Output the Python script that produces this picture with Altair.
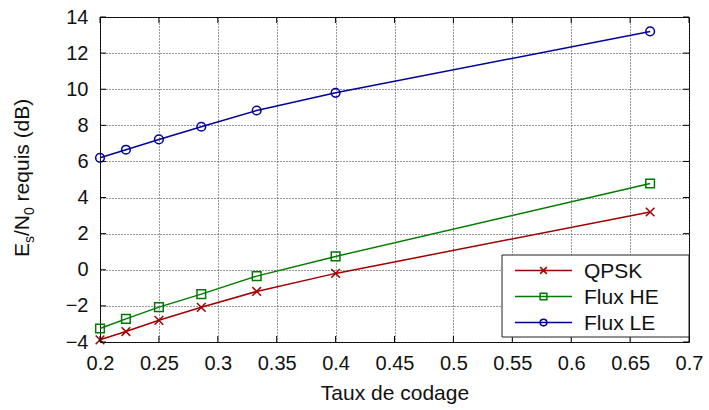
import altair as alt
import pandas as pd

# ---- data ----
rates = [0.2, 0.222, 0.25, 0.286, 0.333, 0.4, 0.667]
qpsk = [-3.88, -3.42, -2.8, -2.08, -1.2, -0.2, 3.2]
flux_he = [-3.25, -2.72, -2.07, -1.35, -0.35, 0.74, 4.78]
flux_le = [6.2, 6.65, 7.22, 7.92, 8.82, 9.8, 13.2]
series = ["QPSK", "Flux HE", "Flux LE"]
colors = ["#a00000", "#007a00", "#00009a"]
shapes = ["M-1,-1L1,1M-1,1L1,-1", "square", "circle"]
x_ticks = [0.2, 0.25, 0.3, 0.35, 0.4, 0.45, 0.5, 0.55, 0.6, 0.65, 0.7]
y_ticks = [-4, -2, 0, 2, 4, 6, 8, 10, 12, 14]
x_title = "Taux de codage"

rows = []
for name, vals in zip(series, [qpsk, flux_he, flux_le]):
    for r, v in zip(rates, vals):
        rows.append({"rate": r, "val": v, "serie": name})
df = pd.DataFrame(rows)

W, H = 589, 325
FONT = "Liberation Sans"

xs = alt.Scale(domain=[0.2, 0.7], nice=False, zero=False)
ys = alt.Scale(domain=[-4, 14], nice=False, zero=False)
cs = alt.Scale(domain=series, range=colors)
ss = alt.Scale(domain=series, range=shapes)

xaxis = alt.Axis(values=x_ticks, format="~g", grid=True, gridDash=[1, 2],
                 gridColor="#333", gridWidth=1, ticks=False, tickSize=0,
                 domain=False, labelFontSize=20, labelFont=FONT, labelColor="#111",
                 labelPadding=11, labelOverlap=False, title=x_title, titleFont=FONT,
                 titleFontSize=21, titleFontWeight="normal", titleColor="#111",
                 titlePadding=9, labelFlush=False)
yaxis = alt.Axis(values=y_ticks, format="~g", grid=True, gridDash=[1, 2],
                 gridColor="#333", gridWidth=1, ticks=False, tickSize=0,
                 domain=False, labelFontSize=20, labelFont=FONT, labelColor="#111",
                 labelPadding=12, labelOverlap=False, title=None, labelFlush=False)

base = alt.Chart(df)
lines = base.mark_line(strokeWidth=1.5).encode(
    x=alt.X("rate:Q", scale=xs, axis=xaxis),
    y=alt.Y("val:Q", scale=ys, axis=yaxis),
    color=alt.Color("serie:N", scale=cs, legend=None),
    detail="serie:N",
)
points = base.mark_point(filled=False, strokeWidth=1.5, size=75, opacity=1).encode(
    x=alt.X("rate:Q", scale=xs, axis=xaxis),
    y=alt.Y("val:Q", scale=ys, axis=yaxis),
    color=alt.Color("serie:N", scale=cs, legend=None),
    shape=alt.Shape("serie:N", scale=ss, legend=None),
)

xt = pd.DataFrame({"v": x_ticks})
yt = pd.DataFrame({"v": y_ticks})
TL = 6
tick_layers = [
    alt.Chart(xt).mark_rule(color="black", strokeWidth=1).encode(
        x=alt.X("v:Q", scale=xs, axis=xaxis), y=alt.value(H), y2=alt.value(H - TL)),
    alt.Chart(xt).mark_rule(color="black", strokeWidth=1).encode(
        x=alt.X("v:Q", scale=xs, axis=xaxis), y=alt.value(0), y2=alt.value(TL)),
    alt.Chart(yt).mark_rule(color="black", strokeWidth=1).encode(
        y=alt.Y("v:Q", scale=ys, axis=yaxis), x=alt.value(0), x2=alt.value(TL)),
    alt.Chart(yt).mark_rule(color="black", strokeWidth=1).encode(
        y=alt.Y("v:Q", scale=ys, axis=yaxis), x=alt.value(W), x2=alt.value(W - TL)),
]

# ---- legend (manual) ----
one = pd.DataFrame({"a": [0]})
leg_layers = [
    alt.Chart(one).mark_rect(fill="white", stroke="#222", strokeWidth=1).encode(
        x=alt.value(402), x2=alt.value(589), y=alt.value(238), y2=alt.value(320))
]
row_y = [253.5, 279.5, 305.5]
for name, col, shp, ry in zip(series, colors, shapes, row_y):
    leg_layers.append(alt.Chart(one).mark_rule(color=col, strokeWidth=1.5).encode(
        x=alt.value(415), x2=alt.value(472), y=alt.value(ry)))
    leg_layers.append(alt.Chart(one).mark_point(
        shape=shp, filled=False, color=col, strokeWidth=1.5, size=45, opacity=1).encode(
        x=alt.value(443.5), y=alt.value(ry)))
    leg_layers.append(alt.Chart(pd.DataFrame({"t": [name]})).mark_text(
        align="left", baseline="middle", font=FONT, fontSize=21, color="#111").encode(
        x=alt.value(484), y=alt.value(ry + 1), text="t:N"))

# ---- y title with subscripts (manual) ----
ytitle_parts = [("E", 21, 0), ("s", 14, 5), ("/N", 21, 0), ("0", 14, 5), ("requis (dB)", 21, 0)]
widths = [14.0, 7.0, 21.0, 7.8, 0]
gaps = [0, 0, 0, 5.8, 0]
title_layers = []
ypos = 240
for (txt, fs, dx), w, g in zip(ytitle_parts, widths, gaps):
    title_layers.append(alt.Chart(pd.DataFrame({"t": [txt]})).mark_text(
        align="left", baseline="alphabetic", angle=270, font=FONT, fontSize=fs,
        color="#111").encode(x=alt.value(-71 + dx), y=alt.value(ypos), text="t:N"))
    ypos -= w + g

chart = alt.layer(lines, points, *tick_layers, *leg_layers, *title_layers).properties(
    width=W, height=H,
    autosize=alt.AutoSizeParams(type="none"),
    padding={"left": 100, "top": 17, "right": 20, "bottom": 68},
    background="white",
).configure_view(stroke="black", strokeWidth=1)

chart.save("out.html", embed_options={"renderer": "svg", "actions": False})
